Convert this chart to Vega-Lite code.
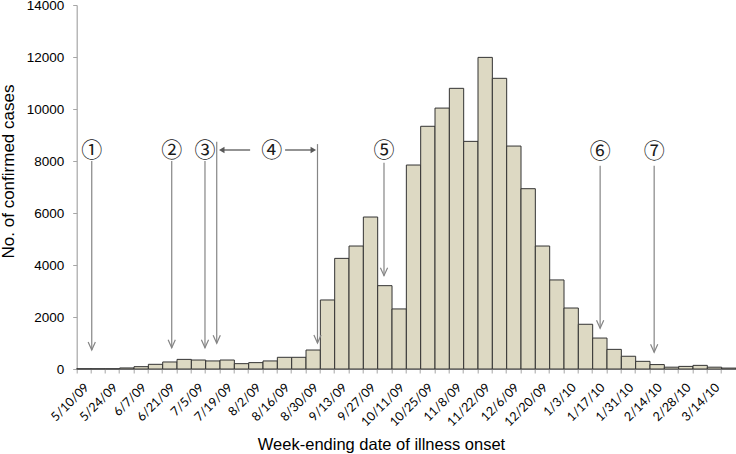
{
  "$schema": "https://vega.github.io/schema/vega-lite/v6.json",
  "width": 659.3,
  "height": 364,
  "autosize": "none",
  "padding": {"left": 76.7, "top": 5, "right": 0, "bottom": 85},
  "background": "white",
  "config": {"view": {"stroke": null}},
  "datasets": {
    "cases": [
      {"week": "5/10/09", "cases": 10}, {"week": "5/17/09", "cases": 10}, {"week": "5/24/09", "cases": 10},
      {"week": "5/31/09", "cases": 40}, {"week": "6/7/09", "cases": 90}, {"week": "6/14/09", "cases": 180},
      {"week": "6/21/09", "cases": 270}, {"week": "6/28/09", "cases": 370}, {"week": "7/5/09", "cases": 345},
      {"week": "7/12/09", "cases": 310}, {"week": "7/19/09", "cases": 345}, {"week": "7/26/09", "cases": 205},
      {"week": "8/2/09", "cases": 245}, {"week": "8/9/09", "cases": 310}, {"week": "8/16/09", "cases": 450},
      {"week": "8/23/09", "cases": 450}, {"week": "8/30/09", "cases": 730}, {"week": "9/6/09", "cases": 2655},
      {"week": "9/13/09", "cases": 4255}, {"week": "9/20/09", "cases": 4730}, {"week": "9/27/09", "cases": 5845},
      {"week": "10/4/09", "cases": 3205}, {"week": "10/11/09", "cases": 2310}, {"week": "10/18/09", "cases": 7845},
      {"week": "10/25/09", "cases": 9335}, {"week": "11/1/09", "cases": 10035}, {"week": "11/8/09", "cases": 10795},
      {"week": "11/15/09", "cases": 8755}, {"week": "11/22/09", "cases": 11985}, {"week": "11/29/09", "cases": 11180},
      {"week": "12/6/09", "cases": 8575}, {"week": "12/13/09", "cases": 6935}, {"week": "12/20/09", "cases": 4730},
      {"week": "12/27/09", "cases": 3425}, {"week": "1/3/10", "cases": 2345}, {"week": "1/10/10", "cases": 1720},
      {"week": "1/17/10", "cases": 1190}, {"week": "1/24/10", "cases": 755}, {"week": "1/31/10", "cases": 490},
      {"week": "2/7/10", "cases": 295}, {"week": "2/14/10", "cases": 170}, {"week": "2/21/10", "cases": 70},
      {"week": "2/28/10", "cases": 100}, {"week": "3/7/10", "cases": 140}, {"week": "3/14/10", "cases": 70},
      {"week": "3/21/10", "cases": 35}
    ],
    "vlines": [
      {"pos": 1.05, "top": 8000, "tip": 730},
      {"pos": 6.63, "top": 8000, "tip": 820},
      {"pos": 8.95, "top": 8000, "tip": 820},
      {"pos": 9.77, "top": 8740, "tip": 990},
      {"pos": 16.8, "top": 8650, "tip": 1000},
      {"pos": 21.44, "top": 7930, "tip": 3590},
      {"pos": 36.52, "top": 7820, "tip": 1565},
      {"pos": 40.29, "top": 7820, "tip": 640}
    ],
    "hlines": [
      {"from": 12.1, "to": 10.12, "val": 8423, "dir": "left"},
      {"from": 14.54, "to": 16.51, "val": 8423, "dir": "right"}
    ],
    "labels": [
      {"pos": 1.05, "val": 8380, "label": "①"},
      {"pos": 6.63, "val": 8380, "label": "②"},
      {"pos": 8.95, "val": 8380, "label": "③"},
      {"pos": 13.61, "val": 8380, "label": "④"},
      {"pos": 21.44, "val": 8380, "label": "⑤"},
      {"pos": 36.52, "val": 8330, "label": "⑥"},
      {"pos": 40.29, "val": 8330, "label": "⑦"}
    ]
  },
  "layer": [
    {
      "data": {"name": "cases"},
      "mark": {"type": "bar", "fill": "#DDD9C3", "stroke": "#333333", "strokeWidth": 1},
      "encoding": {
        "x": {
          "field": "week", "type": "ordinal", "sort": null,
          "scale": {"paddingInner": 0, "paddingOuter": 0},
          "axis": {
            "title": "Week-ending date of illness onset",
            "titleFont": "Liberation Sans", "titleFontSize": 16.5, "titleFontWeight": "normal", "titleColor": "#000",
            "titleX": 304.3, "titleY": 80.3, "titleBaseline": "alphabetic", "titleAlign": "center",
            "bandPosition": 0, "labelOffset": 3,
            "labelAngle": -45, "labelAlign": "right", "labelBaseline": "middle",
            "labelFont": "Lato", "labelFontSize": 12.5, "labelColor": "#000", "labelPadding": 12,
            "labelExpr": "round(datum.index * 45) % 2 == 0 ? datum.label : ''",
            "labelOverlap": false,
            "domainColor": "#a6a6a6", "tickColor": "#a6a6a6", "tickSize": 4, "domainWidth": 1.2
          }
        },
        "y": {
          "field": "cases", "type": "quantitative",
          "scale": {"domain": [0, 14000], "nice": false},
          "axis": {
            "title": "No.  of confirmed cases",
            "titleFont": "Liberation Sans", "titleFontSize": 17, "titleFontWeight": "normal", "titleColor": "#000",
            "titleX": -63.4, "titleY": 166, "titleBaseline": "alphabetic", "titleAlign": "center",
            "values": [0, 2000, 4000, 6000, 8000, 10000, 12000, 14000], "format": "d",
            "labelFont": "Liberation Sans", "labelFontSize": 13.5, "labelColor": "#000", "labelPadding": 9,
            "grid": false, "domainColor": "#a6a6a6", "tickColor": "#a6a6a6", "tickSize": 4, "domainWidth": 1.2
          }
        }
      }
    },
    {
      "layer": [
        {
          "data": {"name": "vlines"},
          "mark": {"type": "rule", "color": "#858585", "strokeWidth": 1.2},
          "encoding": {
            "x": {"field": "pos", "type": "quantitative", "scale": {"domain": [0, 46], "nice": false, "zero": false}, "axis": null},
            "y": {"field": "top", "type": "quantitative"},
            "y2": {"field": "tip"}
          }
        },
        {
          "data": {"name": "vlines"},
          "mark": {"type": "point", "shape": "M-0.45,-1L0,0L0.45,-1", "filled": false, "stroke": "#858585", "strokeWidth": 1.2, "size": 256, "opacity": 1},
          "encoding": {
            "x": {"field": "pos", "type": "quantitative", "scale": {"domain": [0, 46], "nice": false, "zero": false}, "axis": null},
            "y": {"field": "tip", "type": "quantitative"}
          }
        },
        {
          "data": {"name": "hlines"},
          "mark": {"type": "rule", "color": "#595959", "strokeWidth": 1.3},
          "encoding": {
            "x": {"field": "from", "type": "quantitative", "scale": {"domain": [0, 46], "nice": false, "zero": false}, "axis": null},
            "x2": {"field": "to"},
            "y": {"field": "val", "type": "quantitative"}
          }
        },
        {
          "data": {"name": "hlines"},
          "mark": {"type": "point", "filled": true, "color": "#595959", "size": 40, "opacity": 1},
          "encoding": {
            "x": {"field": "to", "type": "quantitative", "scale": {"domain": [0, 46], "nice": false, "zero": false}, "axis": null},
            "y": {"field": "val", "type": "quantitative"},
            "shape": {"field": "dir", "type": "nominal", "scale": {"domain": ["left", "right"], "range": ["triangle-left", "triangle-right"]}, "legend": null}
          }
        },
        {
          "data": {"name": "labels"},
          "mark": {"type": "text", "font": "Noto Sans CJK JP", "fontSize": 21, "color": "#1a1a1a", "baseline": "middle", "align": "center"},
          "encoding": {
            "x": {"field": "pos", "type": "quantitative", "scale": {"domain": [0, 46], "nice": false, "zero": false}, "axis": null},
            "y": {"field": "val", "type": "quantitative"},
            "text": {"field": "label"}
          }
        }
      ]
    }
  ],
  "resolve": {"scale": {"x": "independent"}}
}
